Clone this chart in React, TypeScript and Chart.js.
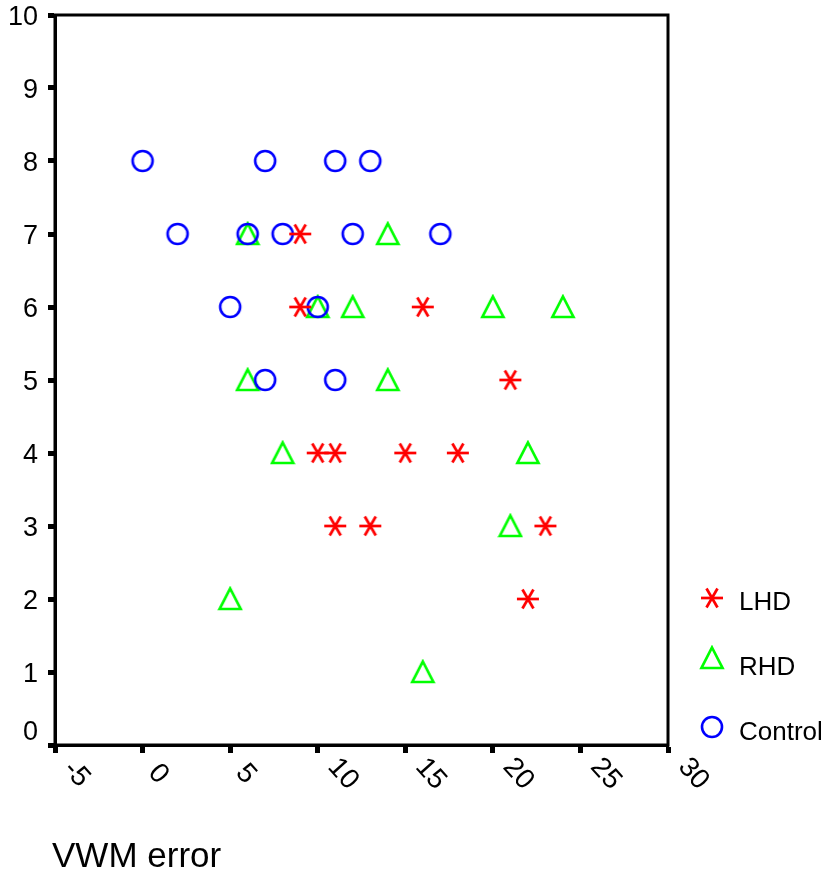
import React, { useEffect, useRef } from "react";
import { Chart, registerables } from "chart.js";

Chart.register(...registerables);

const xTickLabels = ["-5", "0", "5", "10", "15", "20", "25", "30"];
const yTickLabels = ["0", "1", "2", "3", "4", "5", "6", "7", "8", "9", "10"];
const seriesNames = ["LHD", "RHD", "Control"];

const lhdX = [9, 9, 16, 21, 10, 11, 15, 18, 11, 13, 23, 22];
const lhdY = [7, 6, 6, 5, 4, 4, 4, 4, 3, 3, 3, 2];

const rhdX = [6, 14, 10, 12, 20, 24, 6, 14, 8, 22, 21, 5, 16];
const rhdY = [7, 7, 6, 6, 6, 6, 5, 5, 4, 4, 3, 2, 1];

const controlX = [0, 7, 11, 13, 2, 6, 8, 12, 17, 5, 10, 7, 11];
const controlY = [8, 8, 8, 8, 7, 7, 7, 7, 7, 6, 6, 5, 5];

const RED = "#ff0000";
const GREEN = "#00ff00";
const BLUE = "#0000ff";
const FONT = '"Liberation Sans", Arial, sans-serif';

function makeStar(): HTMLCanvasElement {
  const c = document.createElement("canvas");
  c.width = 26;
  c.height = 26;
  const ctx = c.getContext("2d")!;
  ctx.strokeStyle = RED;
  ctx.lineWidth = 2.7;
  const r = 11;
  for (const a of [0, 60, 120]) {
    const rad = (a * Math.PI) / 180;
    ctx.beginPath();
    ctx.moveTo(13 - r * Math.cos(rad), 13 - r * Math.sin(rad));
    ctx.lineTo(13 + r * Math.cos(rad), 13 + r * Math.sin(rad));
    ctx.stroke();
  }
  return c;
}

function makeTriangle(): HTMLCanvasElement {
  const c = document.createElement("canvas");
  c.width = 26;
  c.height = 26;
  const ctx = c.getContext("2d")!;
  ctx.strokeStyle = GREEN;
  ctx.lineWidth = 2.7;
  ctx.lineJoin = "miter";
  ctx.beginPath();
  ctx.moveTo(13, 2.5);
  ctx.lineTo(23.5, 23);
  ctx.lineTo(2.5, 23);
  ctx.closePath();
  ctx.stroke();
  return c;
}

function makeCircle(): HTMLCanvasElement {
  const c = document.createElement("canvas");
  c.width = 26;
  c.height = 26;
  const ctx = c.getContext("2d")!;
  ctx.strokeStyle = BLUE;
  ctx.lineWidth = 2.6;
  ctx.beginPath();
  ctx.arc(13, 13, 10, 0, Math.PI * 2);
  ctx.stroke();
  return c;
}

function toPoints(xs: number[], ys: number[]) {
  return xs.map((x, i) => ({ x, y: ys[i] }));
}

export default function App() {
  const canvasRef = useRef<HTMLCanvasElement | null>(null);

  useEffect(() => {
    if (!canvasRef.current) return;
    const star = makeStar();
    const tri = makeTriangle();
    const circ = makeCircle();
    const images = [star, tri, circ];

    const customDraw = {
      id: "customDraw",
      afterDraw(chart: any) {
        const { ctx, chartArea } = chart;
        const xs = chart.scales.x;
        const ys = chart.scales.y;
        ctx.save();
        // frame
        ctx.strokeStyle = "#000";
        ctx.lineWidth = 3;
        ctx.strokeRect(chartArea.left, chartArea.top, chartArea.right - chartArea.left, chartArea.bottom - chartArea.top);

        // y tick labels
        ctx.fillStyle = "#000";
        ctx.font = `27px ${FONT}`;
        ctx.textAlign = "right";
        ctx.textBaseline = "middle";
        yTickLabels.forEach((lab) => {
          const py = ys.getPixelForValue(Number(lab));
          const y = Math.min(py + 3, chartArea.bottom - 12);
          ctx.fillText(lab, 38, y);
        });

        // x tick labels rotated clockwise
        ctx.font = `28px ${FONT}`;
        ctx.textAlign = "center";
        ctx.textBaseline = "middle";
        xTickLabels.forEach((lab) => {
          const px = xs.getPixelForValue(Number(lab));
          const w = ctx.measureText(lab).width;
          const cx = px + 6 + 0.62 * w;
          const cy = chartArea.bottom + 29;
          ctx.save();
          ctx.translate(cx, cy);
          ctx.rotate((48 * Math.PI) / 180);
          ctx.fillText(lab, 0, 0);
          ctx.restore();
        });

        // legend
        const legendY = [598, 658, 727];
        const textY = [603, 668, 733];
        ctx.font = `26px ${FONT}`;
        ctx.textAlign = "left";
        ctx.textBaseline = "middle";
        seriesNames.forEach((name, i) => {
          const img = images[i];
          ctx.drawImage(img, 712 - img.width / 2, legendY[i] - img.height / 2);
          ctx.fillText(name, 739, textY[i]);
        });

        // axis title
        ctx.font = `35px ${FONT}`;
        ctx.textBaseline = "alphabetic";
        ctx.fillText("VWM error", 52, 867);
        ctx.restore();
      },
    };

    const chart = new Chart(canvasRef.current, {
      type: "scatter",
      data: {
        datasets: [
          {
            label: seriesNames[0],
            data: toPoints(lhdX, lhdY),
            pointStyle: star as any,
            order: 1,
          },
          {
            label: seriesNames[2],
            data: toPoints(controlX, controlY),
            pointStyle: circ as any,
            order: 2,
          },
          {
            label: seriesNames[1],
            data: toPoints(rhdX, rhdY),
            pointStyle: tri as any,
            order: 3,
          },
        ],
      },
      options: {
        animation: false,
        responsive: false,
        maintainAspectRatio: false,
        layout: { padding: { left: 0, top: 15, right: 159, bottom: 0 } },
        plugins: {
          legend: { display: false },
          tooltip: { enabled: false },
          title: { display: false },
        },
        scales: {
          x: {
            type: "linear",
            min: -5,
            max: 30,
            afterFit: (s: any) => {
              s.height = 128;
            },
            ticks: { stepSize: 5, display: false },
            grid: {
              display: true,
              drawOnChartArea: false,
              drawTicks: true,
              tickLength: 8,
              tickWidth: 5,
              tickColor: "#000",
            },
            border: { display: true, color: "#000", width: 3 },
          },
          y: {
            type: "linear",
            min: 0,
            max: 10,
            afterFit: (s: any) => {
              s.width = 55;
            },
            ticks: { stepSize: 1, display: false },
            grid: {
              display: true,
              drawOnChartArea: false,
              drawTicks: true,
              tickLength: 7,
              tickWidth: 5,
              tickColor: "#000",
            },
            border: { display: true, color: "#000", width: 3 },
          },
        },
      },
      plugins: [customDraw],
    });
    return () => chart.destroy();
  }, []);

  return (
    <div style={{ position: "absolute", left: 0, top: 0, width: 827, height: 873, background: "#fff" }}>
      <canvas ref={canvasRef} width={827} height={873} style={{ display: "block" }} />
    </div>
  );
}
